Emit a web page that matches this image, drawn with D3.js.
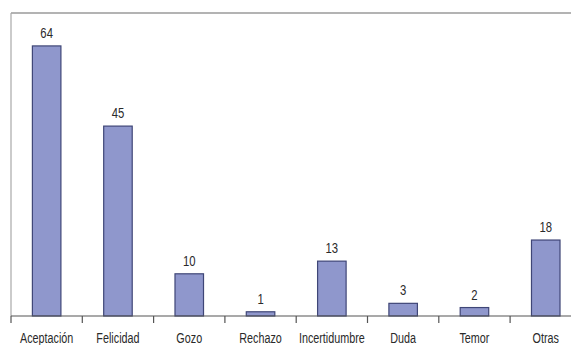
<!DOCTYPE html>
<html><head><meta charset="utf-8">
<script src="https://cdn.jsdelivr.net/npm/d3@7"></script>
<style>
html,body{margin:0;padding:0;background:#fff;overflow:hidden;}
svg{display:block;}
text{font-family:"Liberation Sans",Arial,sans-serif;fill:#2a2a2a;}
</style></head>
<body>
<svg id="chart" width="571" height="345"></svg>
<script>
const categories = ["Aceptación","Felicidad","Gozo","Rechazo","Incertidumbre","Duda","Temor","Otras"];
const values = [64,45,10,1,13,3,2,18];

const W = 571, H = 345;
const mLeft = 11, mTop = 13, base = 316, step = 71.3;
const svg = d3.select("#chart");

const x = d3.scaleBand().domain(categories)
  .range([mLeft, mLeft + step * categories.length])
  .paddingInner(0.6).paddingOuter(0.3);
const y = d3.scaleLinear().domain([0, 71.8]).range([base, mTop]);

// frame
svg.append("line").attr("x1", mLeft).attr("x2", W).attr("y1", mTop).attr("y2", mTop)
  .attr("stroke", "#9a9a9a").attr("stroke-width", 1.6);
svg.append("line").attr("x1", mLeft).attr("x2", mLeft).attr("y1", mTop).attr("y2", base)
  .attr("stroke", "#a8a8a8").attr("stroke-width", 1.2);

// bars
svg.selectAll("rect.bar").data(values).join("rect")
  .attr("class", "bar")
  .attr("x", (d, i) => x(categories[i]))
  .attr("width", x.bandwidth())
  .attr("y", d => y(d))
  .attr("height", d => base - y(d))
  .attr("fill", "#8f97cc")
  .attr("stroke", "#3f4677")
  .attr("stroke-width", 1.2);

// value labels
svg.selectAll("text.val").data(values).join("text")
  .attr("class", "val")
  .attr("transform", (d, i) => `translate(${x(categories[i]) + x.bandwidth() / 2},${y(d) - 8}) scale(0.78,1)`)
  .attr("text-anchor", "middle")
  .attr("font-size", 14.5)
  .text(d => d);

// x axis
const axis = svg.append("g");
axis.append("line").attr("x1", mLeft).attr("x2", W).attr("y1", base).attr("y2", base)
  .attr("stroke", "#555").attr("stroke-width", 1.2);
const bounds = categories.map((c, i) => mLeft + step * i).concat([mLeft + step * categories.length]);
axis.selectAll("line.tick").data(bounds).join("line")
  .attr("class", "tick")
  .attr("x1", d => d).attr("x2", d => d)
  .attr("y1", base).attr("y2", base + 7)
  .attr("stroke", "#555").attr("stroke-width", 1.2);
axis.selectAll("text.cat").data(categories).join("text")
  .attr("class", "cat")
  .attr("transform", d => `translate(${x(d) + x.bandwidth() / 2},343) scale(0.72,1)`)
  .attr("text-anchor", "middle")
  .attr("font-size", 15)
  .text(d => d);
</script>
</body></html>
